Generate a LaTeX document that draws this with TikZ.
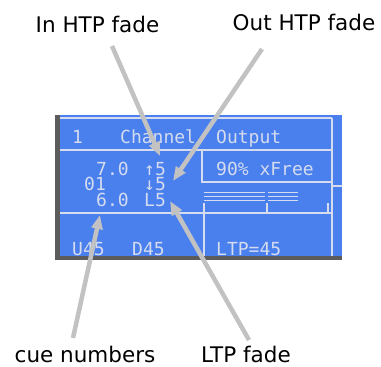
\documentclass[tikz,border=0pt]{standalone}
\usepackage{fontspec}
\setmainfont{DejaVu Sans}
\newfontfamily\lcdfont{DejaVu Sans Mono}
\usetikzlibrary{arrows.meta}
\begin{document}
\begin{tikzpicture}[x=1pt,y=-1pt,
  lcd/.style={anchor=base west,inner sep=0pt,text=lcdtext,
    text height=11pt,text depth=0pt,
    font=\lcdfont\fontsize{18}{18}\selectfont},
  lbl/.style={anchor=base,inner sep=0pt,text depth=0pt,
    font=\fontsize{21.5}{24}\selectfont},
  rule/.style={draw=lcdtext,line width=1.6pt},
  pointer/.style={draw=ptrgray,line width=4.5pt,
    -{Triangle[length=14pt,width=11pt]}}]
  \definecolor{lcdblue}{HTML}{4A7FEE}
  \definecolor{lcdtext}{HTML}{D4DCEE}
  \definecolor{framegray}{HTML}{5C5C5C}
  \definecolor{ptrgray}{HTML}{C2C2C2}
  \useasboundingbox (0,0) rectangle (381,367);
  % display panel
  \fill [framegray] (55,115) rectangle (342,260);
  \fill [lcdblue] (60,115) rectangle (342,256);
  \draw [rule] (60,118) -- (332,118);
  \draw [rule] (60,150) -- (332,150);
  \draw [rule] (60,213) -- (332,213);
  \draw [rule] (332,118) -- (332,256);
  \draw [rule] (332,186) -- (342,186);
  \draw [rule] (202,150) -- (202,182) -- (332,182);
  \draw [rule] (204,203) -- (204,256);
  \draw [rule] (267,203) -- (267,213);
  \draw [rule] (328,203) -- (328,213);
  \draw [line width=1pt,lcdtext] (204,192) -- (265,192) (268,192) -- (298,192)
    (204,196) -- (265,196) (268,196) -- (298,196)
    (204,200) -- (265,200) (268,200) -- (298,200);
  % lcd text, 12pt per character cell
  \node [lcd] (chan) at (72,143) {1};
  \node [lcd] (chname) at (120,143) {Channel};
  \node [lcd] (outp) at (216,143) {Output};
  \node [lcd] (uptime) at (96,175) {7.0};
  \node [lcd] (upfade) at (144,175) {↑5};
  \node [lcd] (free) at (216,175) {90\% xFree};
  \node [lcd] (cueno) at (84,190) {01};
  \node [lcd] (dnfade) at (144,190) {↓5};
  \node [lcd] (ltptime) at (96,206) {6.0};
  \node [lcd] (ltpfade) at (144,206) {L5};
  \node [lcd] (uval) at (72,255) {U45};
  \node [lcd] (dval) at (132,255) {D45};
  \node [lcd] (ltpval) at (216,255) {LTP=45};
  % labels and pointers
  \node [lbl] (inlbl) at (97.5,32) {In HTP fade};
  \node [lbl] (outlbl) at (304,30) {Out HTP fade};
  \node [lbl] (cuelbl) at (85,362) {cue numbers};
  \node [lbl] (ltplbl) at (246,362) {LTP fade};
  \coordinate (inT) at (112,46);
  \coordinate (outT) at (262,49);
  \coordinate (cueT) at (73,338);
  \coordinate (ltpT) at (249,340);
  \coordinate (inH) at (160,156);
  \coordinate (outH) at (173,181);
  \coordinate (cueH) at (100,215);
  \coordinate (ltpH) at (170,201);
  \draw [pointer] (inT) -- (inH);
  \draw [pointer] (outT) -- (outH);
  \draw [pointer] (cueT) -- (cueH);
  \draw [pointer] (ltpT) -- (ltpH);
\end{tikzpicture}
\end{document}
